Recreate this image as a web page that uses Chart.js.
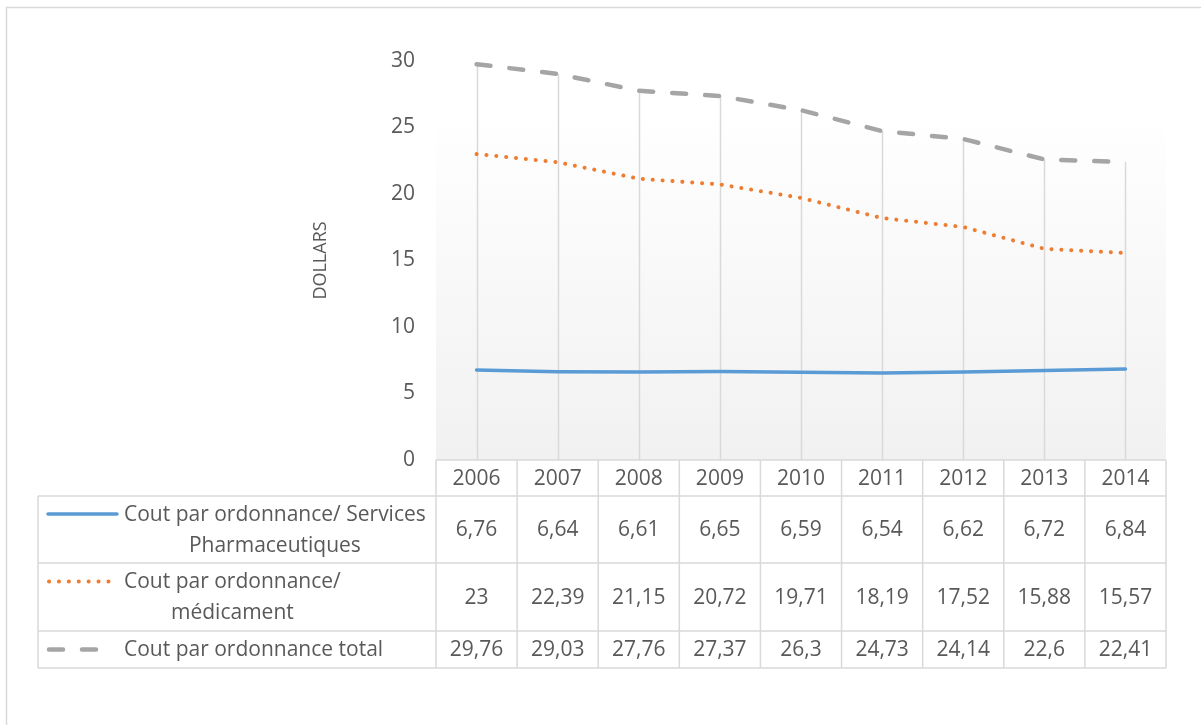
<!DOCTYPE html>
<html>
<head>
<meta charset="utf-8">
<script src="https://cdn.jsdelivr.net/npm/chart.js@4/dist/chart.umd.min.js"></script>
<style>
  html, body { margin: 0; padding: 0; background: #fff; }
  #wrap { width: 1201px; height: 725px; }
</style>
</head>
<body>
<div id="wrap"><canvas id="chart" width="1201" height="725"></canvas></div>
<script>
// data
const years = ['2006', '2007', '2008', '2009', '2010', '2011', '2012', '2013', '2014'];
const services = [6.76, 6.64, 6.61, 6.65, 6.59, 6.54, 6.62, 6.72, 6.84];
const medicament = [23, 22.39, 21.15, 20.72, 19.71, 18.19, 17.52, 15.88, 15.57];
const total = [29.76, 29.03, 27.76, 27.37, 26.3, 24.73, 24.14, 22.6, 22.41];
const seriesNames = [
    ['Cout par ordonnance/ Services', 'Pharmaceutiques'],
    ['Cout par ordonnance/', 'médicament'],
    ['Cout par ordonnance total']
];

const FONT = '"Open Sans", sans-serif';
const TEXT = '#595959';
const GRID = '#d9d9d9';
const BLUE = '#5b9bd5';
const ORANGE = '#ed7d31';
const GREY = '#a5a5a5';

const fmt = (v) => String(v).replace('.', ',');

// background, border and plot-area gradient
const backgroundPlugin = {
    id: 'background',
    beforeDraw(chart) {
        const ctx = chart.ctx;
        const area = chart.chartArea;
        ctx.save();
        ctx.fillStyle = '#ffffff';
        ctx.fillRect(0, 0, chart.width, chart.height);
        ctx.strokeStyle = GRID;
        ctx.lineWidth = 1.5;
        ctx.strokeRect(6.5, 7.5, chart.width + 20, chart.height + 20);

        const g = ctx.createLinearGradient(0, 110, 0, area.bottom);
        g.addColorStop(0, '#ffffff');
        g.addColorStop(1, '#f1f1f1');
        ctx.fillStyle = g;
        ctx.fillRect(area.left, 110, area.right - area.left, area.bottom - 110);
        ctx.restore();
    },
    beforeDatasetsDraw(chart) {
        // drop lines from the top series down to zero
        const ctx = chart.ctx;
        const x = chart.scales.x;
        const y = chart.scales.y;
        ctx.save();
        ctx.strokeStyle = GRID;
        ctx.lineWidth = 1.5;
        total.forEach((v, i) => {
            const px = Math.round(x.getPixelForValue(i)) + 0.5;
            ctx.beginPath();
            ctx.moveTo(px, y.getPixelForValue(v));
            ctx.lineTo(px, y.getPixelForValue(0));
            ctx.stroke();
        });
        ctx.restore();
    }
};

// key line extents in the table's legend column
const keyStart = [48, 49, 49];
const keyEnd = [117, 109, 98];

// data table under the plot
const tablePlugin = {
    id: 'dataTable',
    afterDraw(chart) {
        const ctx = chart.ctx;
        const x = chart.scales.x;
        const area = chart.chartArea;
        const step = x.getPixelForValue(1) - x.getPixelForValue(0);
        const left = 38;
        const colLeft = x.getPixelForValue(0) - step / 2;
        const colRight = x.getPixelForValue(years.length - 1) + step / 2;
        const rows = [area.bottom, 496, 563, 631, 668];
        const values = [services, medicament, total];

        ctx.save();
        ctx.strokeStyle = GRID;
        ctx.lineWidth = 1.5;
        // horizontal lines
        ctx.beginPath();
        ctx.moveTo(colLeft, rows[0]); ctx.lineTo(colRight, rows[0]);
        for (let r = 1; r < rows.length; r++) {
            ctx.moveTo(left, rows[r]); ctx.lineTo(colRight, rows[r]);
        }
        // vertical lines
        ctx.moveTo(left, rows[1]); ctx.lineTo(left, rows[4]);
        for (let i = 0; i <= years.length; i++) {
            const px = colLeft + i * step;
            ctx.moveTo(px, rows[0]); ctx.lineTo(px, rows[4]);
        }
        ctx.stroke();

        ctx.fillStyle = TEXT;
        ctx.font = '21px ' + FONT;
        ctx.textAlign = 'center';
        ctx.textBaseline = 'middle';
        years.forEach((yr, i) => {
            ctx.fillText(yr, x.getPixelForValue(i), (rows[0] + rows[1]) / 2 + 1);
        });
        values.forEach((arr, r) => {
            const cy = (rows[r + 1] + rows[r + 2]) / 2 + 1;
            arr.forEach((v, i) => ctx.fillText(fmt(v), x.getPixelForValue(i), cy));
        });

        // legend keys and series names
        const blockLeft = 124;
        const lineGap = 31;
        seriesNames.forEach((lines, r) => {
            const cy = (rows[r + 1] + rows[r + 2]) / 2;
            const widths = lines.map(l => ctx.measureText(l).width);
            const blockW = Math.max(...widths);
            const firstY = cy - (lines.length - 1) * lineGap / 2;
            ctx.fillStyle = TEXT;
            lines.forEach((l, k) => {
                ctx.fillText(l, blockLeft + blockW / 2, firstY + k * lineGap + 1);
            });
            const ds = chart.data.datasets[r];
            ctx.strokeStyle = ds.borderColor;
            ctx.lineWidth = ds.borderWidth;
            ctx.lineCap = ds.borderCapStyle || 'butt';
            ctx.setLineDash(ds.borderDash || []);
            ctx.beginPath();
            ctx.moveTo(keyStart[r], firstY);
            ctx.lineTo(keyEnd[r], firstY);
            ctx.stroke();
            ctx.setLineDash([]);
        });
        ctx.restore();
    }
};

new Chart(document.getElementById('chart'), {
    type: 'line',
    data: {
        labels: years,
        datasets: [
            {
                label: seriesNames[0].join(' '),
                data: services,
                borderColor: BLUE,
                borderWidth: 3.5,
                borderCapStyle: 'round',
                pointRadius: 0
            },
            {
                label: seriesNames[1].join(' '),
                data: medicament,
                borderColor: ORANGE,
                borderWidth: 4,
                borderCapStyle: 'round',
                borderDash: [0.1, 9.8],
                pointRadius: 0
            },
            {
                label: seriesNames[2].join(' '),
                data: total,
                borderColor: GREY,
                borderWidth: 4.5,
                borderCapStyle: 'round',
                borderDash: [14, 19],
                pointRadius: 0
            }
        ]
    },
    options: {
        responsive: false,
        animation: false,
        events: [],
        layout: {
            padding: { left: 290, top: 61, right: 35, bottom: 265 }
        },
        plugins: {
            legend: { display: false },
            tooltip: { enabled: false }
        },
        scales: {
            x: {
                display: true,
                offset: true,
                grid: { display: false, drawTicks: false },
                border: { display: false },
                ticks: { display: false },
                afterFit: (scale) => { scale.height = 0; }
            },
            y: {
                min: 0,
                max: 30,
                grid: { display: false, drawTicks: false },
                border: { display: false },
                ticks: {
                    stepSize: 5,
                    padding: 21,
                    color: TEXT,
                    font: { family: FONT, size: 21 }
                },
                title: {
                    display: true,
                    text: 'DOLLARS',
                    color: TEXT,
                    padding: { top: 20, bottom: 0 },
                    font: { family: FONT, size: 18 }
                },
                afterFit: (scale) => { scale.width = 146; }
            }
        }
    },
    plugins: [backgroundPlugin, tablePlugin]
});
</script>
</body>
</html>
